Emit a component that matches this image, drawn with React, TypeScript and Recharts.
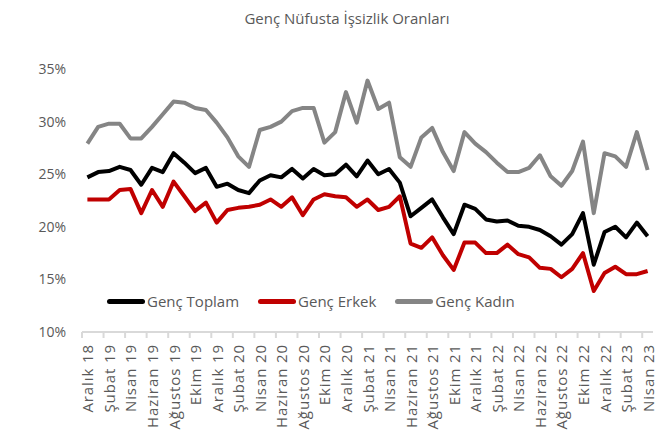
import React from "react";
import { LineChart, Line, XAxis, YAxis } from "recharts";

const monthNames = ["Ocak", "Şubat", "Mart", "Nisan", "Mayıs", "Haziran", "Temmuz", "Ağustos", "Eylül", "Ekim", "Kasım", "Aralık"];

// Aralık 18 ... Nisan 23
const months: string[] = ["Aralık 18"];
for (let yr = 19; yr <= 23; yr++) {
  for (let m = 0; m < 12; m++) {
    if (yr === 23 && m > 3) break;
    months.push(`${monthNames[m]} ${yr}`);
  }
}

const gencToplam = [
  24.7, 25.2, 25.3, 25.7, 25.4, 24.0, 25.6, 25.2, 27.0, 26.1,
  25.1, 25.6, 23.8, 24.1, 23.5, 23.2, 24.4, 24.9, 24.7, 25.5,
  24.6, 25.5, 24.9, 25.0, 25.9, 24.8, 26.3, 25.0, 25.5, 24.2,
  21.0, 21.8, 22.6, 20.9, 19.3, 22.1, 21.7, 20.7, 20.5, 20.6,
  20.1, 20.0, 19.7, 19.1, 18.3, 19.3, 21.3, 16.4, 19.5, 20.0,
  19.0, 20.4, 19.1,
];

const gencErkek = [
  22.6, 22.6, 22.6, 23.5, 23.6, 21.3, 23.5, 21.9, 24.3, 22.9,
  21.5, 22.3, 20.4, 21.6, 21.8, 21.9, 22.1, 22.6, 21.9, 22.8,
  21.1, 22.6, 23.1, 22.9, 22.8, 21.9, 22.6, 21.6, 21.9, 22.9,
  18.4, 18.0, 19.0, 17.3, 15.9, 18.5, 18.5, 17.5, 17.5, 18.3,
  17.4, 17.1, 16.1, 16.0, 15.2, 16.0, 17.5, 13.9, 15.6, 16.2,
  15.5, 15.5, 15.8,
];

const gencKadin = [
  27.9, 29.5, 29.8, 29.8, 28.4, 28.4, 29.5, 30.7, 31.9, 31.8,
  31.3, 31.1, 29.9, 28.5, 26.7, 25.7, 29.2, 29.5, 30.0, 31.0,
  31.3, 31.3, 28.0, 29.0, 32.8, 29.9, 33.9, 31.2, 31.8, 26.6,
  25.7, 28.5, 29.4, 27.1, 25.3, 29.0, 27.9, 27.1, 26.1, 25.2,
  25.2, 25.6, 26.8, 24.8, 23.9, 25.3, 28.1, 21.3, 27.0, 26.7,
  25.7, 29.0, 25.4,
];

const yTicks = [10, 15, 20, 25, 30, 35];

const series = [
  { key: "toplam", name: "Genç Toplam", color: "#000000" },
  { key: "erkek", name: "Genç Erkek", color: "#c00000" },
  { key: "kadin", name: "Genç Kadın", color: "#858585" },
];

const data = months.map((m, i) => ({
  ay: m,
  toplam: gencToplam[i],
  erkek: gencErkek[i],
  kadin: gencKadin[i],
}));

const FONT = "'Open Sans', sans-serif";
const TEXT = "#595959";
const PLOT_LEFT = 82;
const PLOT_RIGHT = 653;
const STEP = (PLOT_RIGHT - PLOT_LEFT) / months.length;

const MonthTick = (props: any) => {
  const { x, y, payload } = props;
  return (
    <g>
      <line x1={x - STEP / 2} y1={y} x2={x - STEP / 2} y2={y + 6} stroke="#d9d9d9" strokeWidth={2} />
      <text
        x={0}
        y={0}
        transform={`translate(${x},${y + 12}) rotate(-90)`}
        textAnchor="end"
        dominantBaseline="central"
        fontFamily={FONT}
        fontSize={15}
        letterSpacing={0.9}
        fill={TEXT}
      >
        {payload.value}
      </text>
    </g>
  );
};

export default function App() {
  return (
    <div style={{ position: "absolute", left: 0, top: 0, width: 670, height: 436, background: "#fff" }}>
      <div
        style={{
          position: "absolute",
          top: 8,
          left: 0,
          width: 670,
          textAlign: "center",
          fontFamily: FONT,
          fontSize: 15,
          color: TEXT,
          paddingLeft: 24,
          boxSizing: "border-box",
        }}
      >
        Genç Nüfusta İşsizlik Oranları
      </div>
      <LineChart width={670} height={436} data={data} margin={{ top: 69, right: 670 - PLOT_RIGHT, left: 0, bottom: 0 }}>
        <XAxis
          dataKey="ay"
          interval={1}
          height={104}
          padding={{ left: STEP / 2, right: STEP / 2 }}
          axisLine={{ stroke: "#d9d9d9", strokeWidth: 2 }}
          tickLine={false}
          tickSize={0}
          tickMargin={0}
          tick={<MonthTick />}
        />
        <YAxis
          width={PLOT_LEFT}
          domain={[10, 35]}
          ticks={yTicks}
          axisLine={false}
          tickLine={false}
          tickMargin={10}
          tickFormatter={(v: number) => `${v}%`}
          tick={{ fontFamily: FONT, fontSize: 14, fill: TEXT }}
        />
        {series.map((s) => (
          <Line
            key={s.key}
            type="linear"
            dataKey={s.key}
            name={s.name}
            stroke={s.color}
            strokeWidth={4}
            dot={false}
            isAnimationActive={false}
            strokeLinejoin="round"
          />
        ))}
      </LineChart>
      <div
        style={{
          position: "absolute",
          top: 291,
          left: 107,
          display: "flex",
          alignItems: "center",
          fontFamily: FONT,
          fontSize: 15,
          color: TEXT,
        }}
      >
        {series.map((s) => (
          <div key={s.key} style={{ display: "flex", alignItems: "center", marginRight: 19 }}>
            <div style={{ width: 38, height: 5, borderRadius: 3, background: s.color }} />
            <span style={{ marginLeft: 2 }}>{s.name}</span>
          </div>
        ))}
      </div>
    </div>
  );
}
